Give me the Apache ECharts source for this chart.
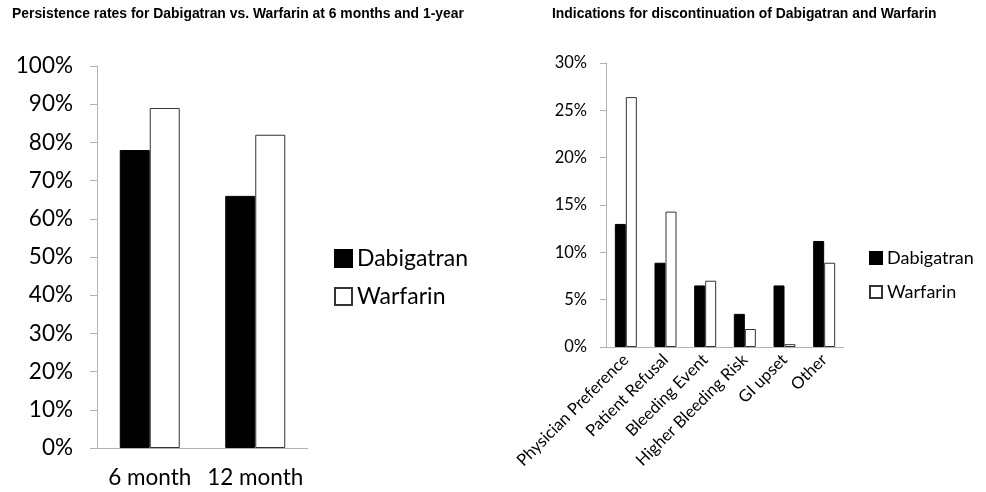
<!DOCTYPE html>
<html>
<head>
<meta charset="utf-8">
<script src="https://cdn.jsdelivr.net/npm/echarts@6/dist/echarts.min.js"></script>
<style>
html,body{margin:0;padding:0;background:#fff;}
#chart{width:986px;height:492px;}
</style>
</head>
<body>
<div id="chart"></div>
<script>
// Left chart data
const persistCategories = ['6 month', '12 month'];
const persistDabigatran = [78, 66];
const persistWarfarin = [89, 82];
const persistTicks = { min: 0, max: 100, interval: 10 };

// Right chart data
const discCategories = ['Physician Preference', 'Patient Refusal', 'Bleeding Event', 'Higher Bleeding Risk', 'GI upset', 'Other'];
const discDabigatran = [13.0, 8.9, 6.5, 3.5, 6.5, 11.2];
const discWarfarin = [26.4, 14.3, 7.0, 1.9, 0.3, 8.9];
const discTicks = { min: 0, max: 30, interval: 5 };

const seriesNames = ['Dabigatran', 'Warfarin'];

const FONT = 'Lato';
const axisGrey = '#b3b3b3';

const dabStyle = { color: '#000000', borderColor: '#000000', borderWidth: 1 };
const warStyle = { color: '#ffffff', borderColor: '#333333', borderWidth: 1 };

const chart = echarts.init(document.getElementById('chart'), null, { renderer: 'canvas' });

const option = {
  backgroundColor: '#ffffff',
  animation: false,
  title: [
    { text: 'Persistence rates for Dabigatran vs. Warfarin at 6 months and 1-year', left: 12, top: 7, padding: 0,
      textStyle: { fontFamily: 'Liberation Sans', fontWeight: 'bold', fontSize: 13.9, color: '#000' } },
    { text: 'Indications for discontinuation of Dabigatran and Warfarin', left: 552, top: 7, padding: 0,
      textStyle: { fontFamily: 'Liberation Sans', fontWeight: 'bold', fontSize: 13.9, color: '#000' } }
  ],
  legend: [
    { data: seriesNames, orient: 'vertical', left: 334, top: 247, icon: 'rect', padding: 0,
      itemWidth: 17, itemHeight: 17, itemGap: 15,
      textStyle: { fontFamily: FONT, fontSize: 23, color: '#000', lineHeight: 20 } },
    { data: seriesNames, orient: 'vertical', left: 869, top: 249, icon: 'rect', padding: 0,
      itemWidth: 12, itemHeight: 12, itemGap: 16,
      textStyle: { fontFamily: FONT, fontSize: 18, color: '#000', lineHeight: 16 } }
  ],
  grid: [
    { left: 97, top: 66, width: 211, height: 382 },
    { left: 606, top: 63, width: 238, height: 284 }
  ],
  xAxis: [
    { type: 'category', gridIndex: 0, data: persistCategories,
      axisLine: { lineStyle: { color: axisGrey } },
      axisTick: { length: 8, lineStyle: { color: axisGrey } },
      axisLabel: { fontFamily: FONT, fontSize: 22.5, color: '#000', margin: 18, interval: 0 } },
    { type: 'category', gridIndex: 1, data: discCategories,
      axisLine: { lineStyle: { color: axisGrey } },
      axisTick: { length: 6, lineStyle: { color: axisGrey } },
      axisLabel: { fontFamily: FONT, fontSize: 16.5, color: '#000', rotate: 45, margin: 10, interval: 0 } }
  ],
  yAxis: [
    { type: 'value', gridIndex: 0, min: persistTicks.min, max: persistTicks.max, interval: persistTicks.interval,
      axisLine: { show: true, lineStyle: { color: axisGrey } },
      axisTick: { show: true, length: 7, lineStyle: { color: axisGrey } },
      splitLine: { show: false },
      axisLabel: { fontFamily: FONT, fontSize: 22.5, color: '#000', margin: 24, formatter: '{value}%' } },
    { type: 'value', gridIndex: 1, min: discTicks.min, max: discTicks.max, interval: discTicks.interval,
      axisLine: { show: true, lineStyle: { color: axisGrey } },
      axisTick: { show: true, length: 6, lineStyle: { color: axisGrey } },
      splitLine: { show: false },
      axisLabel: { fontFamily: FONT, fontSize: 16.5, color: '#000', margin: 19, formatter: '{value}%' } }
  ],
  series: [
    { name: 'Dabigatran', type: 'bar', xAxisIndex: 0, yAxisIndex: 0, data: persistDabigatran,
      barWidth: 30, barGap: '0%', itemStyle: dabStyle },
    { name: 'Warfarin', type: 'bar', xAxisIndex: 0, yAxisIndex: 0, data: persistWarfarin,
      barWidth: 30, barGap: '0%', itemStyle: warStyle },
    { name: 'Dabigatran', type: 'bar', xAxisIndex: 1, yAxisIndex: 1, data: discDabigatran,
      barWidth: 11, barGap: '0%', itemStyle: dabStyle },
    { name: 'Warfarin', type: 'bar', xAxisIndex: 1, yAxisIndex: 1, data: discWarfarin,
      barWidth: 11, barGap: '0%', itemStyle: warStyle }
  ]
};

chart.setOption(option);
</script>
</body>
</html>
